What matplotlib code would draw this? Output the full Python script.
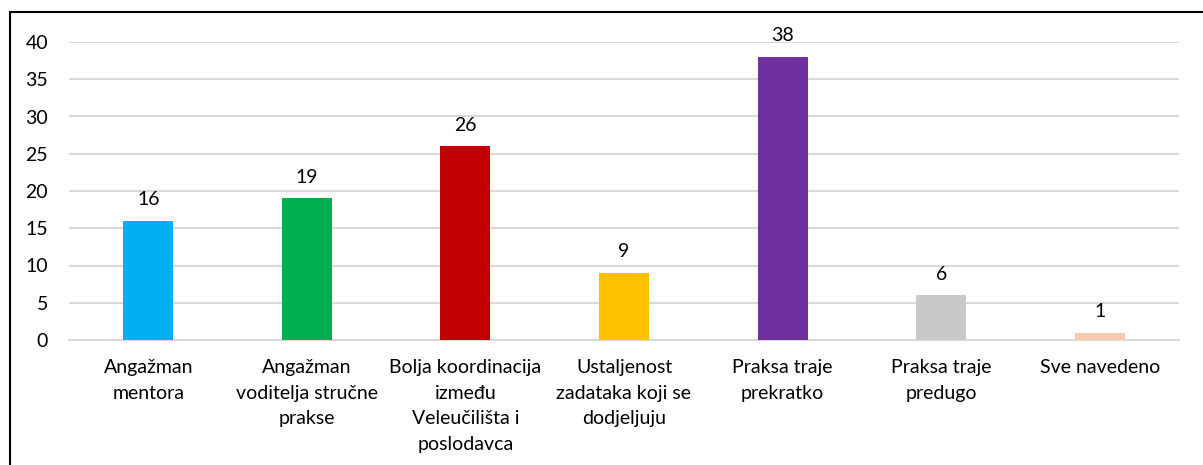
import numpy as np
import matplotlib
matplotlib.use("Agg")
import matplotlib.pyplot as plt
from matplotlib.patches import Rectangle

categories = [
    "Angažman\nmentora",
    "Angažman\nvoditelja stručne\nprakse",
    "Bolja koordinacija\nizmeđu\nVeleučilišta i\nposlodavca",
    "Ustaljenost\nzadataka koji se\ndodjeljuju",
    "Praksa traje\nprekratko",
    "Praksa traje\npredugo",
    "Sve navedeno",
]
values = [16, 19, 26, 9, 38, 6, 1]
colors = ["#00B0F0", "#00B050", "#C00000", "#FFC000", "#7030A0", "#C9C9C9", "#F8CBAD"]
yticks = [0, 5, 10, 15, 20, 25, 30, 35, 40]

plt.rcParams['font.family'] = ['Lato', 'DejaVu Sans']
fs = 14

fig = plt.figure(figsize=(12.03, 4.65), dpi=100)
ax = fig.add_axes([69/1203, 1 - 340/465, (1179-69)/1203, (340-42)/465])

x = np.arange(len(values))
bars = ax.bar(x, values, width=0.315, color=colors, zorder=3)

for xi, v in zip(x, values):
    ax.annotate(str(v), (xi, v), xytext=(0, 9), textcoords="offset points",
                ha="center", va="bottom", fontsize=fs, color="#000000")

ax.set_xlim(-0.5, len(values) - 0.5)
ax.set_ylim(0, 40)
ax.set_yticks(yticks)
ax.set_yticklabels([str(t) for t in yticks], fontsize=fs)
ax.set_xticks(x)
ax.set_xticklabels(categories, fontsize=fs, linespacing=1.6, va="top")
ax.grid(axis="y", color="#D9D9D9", linewidth=1.5, zorder=0)
ax.tick_params(axis="both", length=0)
ax.tick_params(axis="x", pad=14)
ax.tick_params(axis="y", pad=15)
for s in ["top", "right", "left"]:
    ax.spines[s].set_visible(False)
ax.spines["bottom"].set_color("#D9D9D9")
ax.spines["bottom"].set_linewidth(1.5)

# outer frame, cut off at right and bottom like the source
fig.add_artist(Rectangle((10/1203, -0.05), 1.05, 1.05 - 12/465,
                         transform=fig.transFigure, fill=False,
                         edgecolor="black", linewidth=1.5, clip_on=False))

fig.savefig("out.png", dpi=100)
